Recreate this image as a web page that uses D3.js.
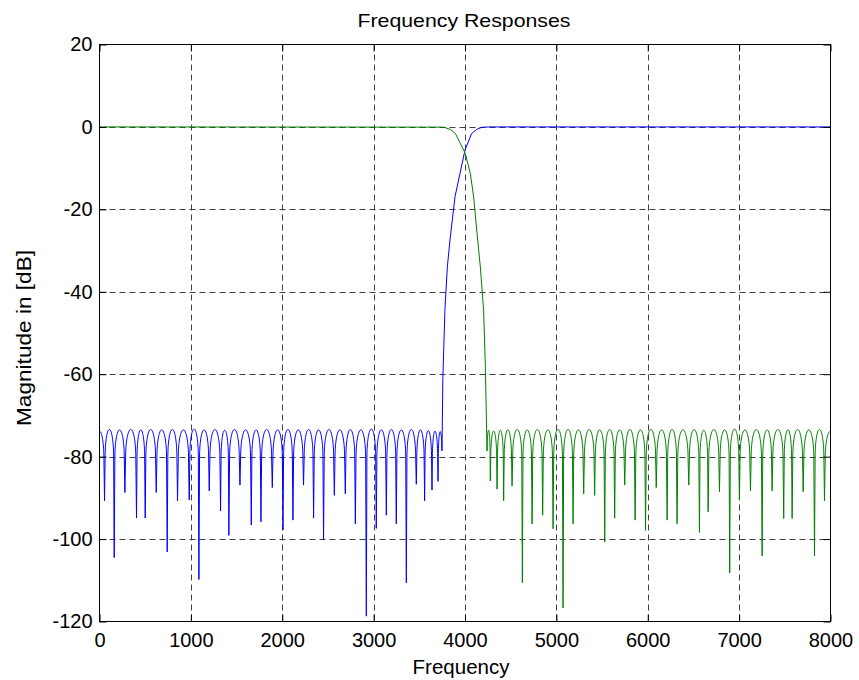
<!DOCTYPE html>
<html>
<head>
<meta charset="utf-8">
<script src="https://cdn.jsdelivr.net/npm/d3@7"></script>
<style>
  body { margin: 0; background: #fff; }
  svg { display: block; }
  text { font-family: "Liberation Sans", Arial, Helvetica, sans-serif; fill: #000; }
</style>
</head>
<body>
<svg id="chart" width="859" height="680"></svg>
<script>
// Axis ticks
const xTicks = [0, 1000, 2000, 3000, 4000, 5000, 6000, 7000, 8000];
const yTicks = [20, 0, -20, -40, -60, -80, -100, -120];

// High-pass response (blue): stopband lobe peaks/nulls, transition, passband
const highpassHz = [
  0, 55, 108, 161, 220, 278, 342, 405, 452, 500, 560, 621, 681, 741, 797, 854, 918, 982,
  1035, 1088, 1145, 1201, 1263, 1325, 1370, 1416, 1477, 1537, 1599, 1661, 1714, 1767, 1829, 1891, 1950,
  2008, 2062, 2117, 2175, 2233, 2288, 2343, 2398, 2452, 2511, 2570, 2630, 2690, 2745, 2800, 2860, 2920,
  2975, 3029, 3084, 3139, 3194, 3248, 3303, 3358, 3412, 3467, 3512, 3558, 3598, 3639, 3672, 3705, 3728,
  3748, 3758, 3781, 3807, 3836, 3891, 3946, 4000, 4073, 4128, 4183, 4260, 8000
];
const highpassDb = [
  -73.8, -90.7, -73.4, -104.5, -73.5, -88.7, -73.4, -94.9, -73.5, -94.9, -73.4, -88.7, -73.5, -103.1, -73.4, -90.7, -73.5, -90.5,
  -73.3, -109.8, -73.5, -88.3, -73.4, -93.2, -73.6, -99.1, -73.4, -86.9, -73.5, -96.6, -73.5, -95.8, -73.4, -87.5, -73.5,
  -97.8, -73.4, -95.4, -73.5, -86.9, -73.4, -94.9, -73.5, -100.2, -73.4, -89.4, -73.5, -89.0, -73.4, -96.3, -73.5, -118.7,
  -73.3, -97.4, -73.5, -94.2, -73.4, -96.3, -73.5, -110.6, -73.4, -86.7, -73.5, -90.7, -73.7, -88.1, -73.8, -86.0, -73.9,
  -78.6, -60.6, -44.0, -33.9, -27.4, -16.9, -11.2, -5.6, -1.6, -0.6, -0.1, 0, 0
];

// Low-pass response (green): passband, transition, stopband lobe peaks/nulls
const lowpassHz = [
  0, 3766, 3839, 3895, 3949, 4004, 4058, 4095, 4132, 4168, 4204, 4223,
  4241, 4259, 4277, 4314, 4351, 4387, 4423, 4469, 4515, 4571, 4628, 4681, 4734, 4792, 4850, 4907, 4964,
  5018, 5073, 5128, 5183, 5241, 5299, 5359, 5419, 5474, 5529, 5583, 5638, 5693, 5748, 5805, 5862, 5920, 5976,
  6035, 6093, 6152, 6212, 6266, 6321, 6385, 6449, 6507, 6566, 6613, 6661, 6723, 6785, 6841, 6897, 6950,
  7003, 7063, 7124, 7188, 7252, 7306, 7361, 7424, 7488, 7534, 7580, 7640, 7701, 7763, 7825, 7880, 7934, 8000
];
const lowpassDb = [
  0, -0.05, -0.6, -1.6, -4.0, -6.5, -11.3, -17.0, -25.9, -34.0, -44.6, -58.3,
  -78.6, -73.6, -85.9, -73.8, -87.9, -73.6, -90.7, -73.5, -87.1, -73.4, -110.6, -73.5, -96.3, -73.4, -94.2, -73.5, -97.5,
  -73.4, -116.7, -73.4, -96.3, -73.5, -89.0, -73.4, -89.4, -73.5, -100.7, -73.4, -94.9, -73.5, -86.9, -73.4, -95.4, -73.5, -97.9,
  -73.4, -87.5, -73.5, -95.4, -73.4, -96.3, -73.5, -86.9, -73.4, -98.4, -73.6, -93.4, -73.4, -88.5, -73.5, -108.2, -73.3,
  -90.5, -73.5, -88.3, -73.4, -104.1, -73.5, -88.3, -73.4, -95.0, -73.5, -95.0, -73.4, -88.5, -73.5, -104.1, -73.4, -90.7, -73.8
];

const seriesColors = { highpass: "#0000ff", lowpass: "#008000" };

const svg = d3.select("#chart");
const W = 859, H = 680;
const plotLeft = 99.5, plotRight = 830.5, plotTop = 44.5, plotBottom = 621.5;

const x = d3.scaleLinear().domain([0, 8000]).range([plotLeft, plotRight]);
const y = d3.scaleLinear().domain([-120, 20]).range([plotBottom, plotTop]);

svg.append("rect").attr("width", W).attr("height", H).attr("fill", "#fff");

// Dashed grid
const grid = svg.append("g")
  .attr("stroke", "#404040")
  .attr("stroke-width", 1)
  .attr("stroke-dasharray", "6,4");
grid.selectAll("line.vx")
  .data(xTicks.filter(d => d > 0 && d < 8000))
  .join("line")
  .attr("class", "vx")
  .attr("x1", d => Math.round(x(d)) + 0.5).attr("x2", d => Math.round(x(d)) + 0.5)
  .attr("y1", plotTop).attr("y2", plotBottom);
grid.selectAll("line.hy")
  .data(yTicks.filter(d => d < 20 && d > -120))
  .join("line")
  .attr("class", "hy")
  .attr("y1", d => Math.round(y(d)) + 0.5).attr("y2", d => Math.round(y(d)) + 0.5)
  .attr("x1", plotLeft).attr("x2", plotRight);

// Curve that rounds the tops of stopband lobes and keeps sharp nulls
function lobeCurve(context) {
  let pts;
  return {
    areaStart() {}, areaEnd() {},
    lineStart() { pts = []; },
    point(px, py) { pts.push([+px, +py]); },
    lineEnd() {
      const n = pts.length;
      if (!n) return;
      const kind = pts.map((p, i) => {
        const a = pts[i - 1], b = pts[i + 1];
        if (!a && !b) return 0;
        const peak = (!a || a[1] > p[1]) && (!b || b[1] > p[1]);
        const dip = (!a || a[1] < p[1]) && (!b || b[1] < p[1]);
        return peak ? 1 : dip ? -1 : 0;
      });
      context.moveTo(pts[0][0], pts[0][1]);
      for (let i = 1; i < n; i++) {
        const p0 = pts[i - 1], p1 = pts[i];
        const k0 = kind[i - 1], k1 = kind[i];
        if (k0 * k1 === -1) {
          const pk = k0 === 1 ? p0 : p1, dp = k0 === 1 ? p1 : p0;
          const h = Math.min(28, 0.8 * (dp[1] - pk[1]));
          const lx = dp[0] + 0.12 * (pk[0] - dp[0]), ly = pk[1] + h;
          if (k0 === 1) {
            context.bezierCurveTo(pk[0] + 0.55 * (lx - pk[0]), pk[1], lx, ly - 0.55 * h, lx, ly);
            context.lineTo(dp[0], dp[1]);
          } else {
            context.lineTo(lx, ly);
            context.bezierCurveTo(lx, ly - 0.55 * h, pk[0] + 0.55 * (lx - pk[0]), pk[1], pk[0], pk[1]);
          }
        } else {
          context.lineTo(p1[0], p1[1]);
        }
      }
    }
  };
}

const line = d3.line()
  .x(d => x(d[0]))
  .y(d => y(d[1]))
  .curve(lobeCurve);

const highpass = highpassHz.map((f, i) => [f, highpassDb[i]]);
const lowpass = lowpassHz.map((f, i) => [f, lowpassDb[i]]);

svg.append("path")
  .datum(highpass)
  .attr("fill", "none")
  .attr("stroke", seriesColors.highpass)
  .attr("stroke-width", 1)
  .attr("d", line);

svg.append("path")
  .datum(lowpass)
  .attr("fill", "none")
  .attr("stroke", seriesColors.lowpass)
  .attr("stroke-width", 1)
  .attr("d", line);

// Axes with inward ticks on all four sides
const tickFont = 20;
const plainNumber = d => String(d);
svg.append("g")
  .attr("transform", `translate(0,${plotBottom})`)
  .call(d3.axisBottom(x).tickValues(xTicks).tickFormat(plainNumber).tickSize(-7).tickSizeOuter(0).tickPadding(11));
svg.append("g")
  .attr("transform", `translate(${plotLeft},0)`)
  .call(d3.axisLeft(y).tickValues(yTicks).tickFormat(plainNumber).tickSize(-7).tickSizeOuter(0).tickPadding(7));
svg.append("g")
  .attr("transform", `translate(0,${plotTop})`)
  .call(d3.axisTop(x).tickValues(xTicks).tickFormat("").tickSize(-7).tickSizeOuter(0));
svg.append("g")
  .attr("transform", `translate(${plotRight},0)`)
  .call(d3.axisRight(y).tickValues(yTicks).tickFormat("").tickSize(-7).tickSizeOuter(0));

svg.selectAll(".domain").remove();
svg.selectAll(".tick line").attr("stroke", "#000");
svg.selectAll(".tick text")
  .attr("font-size", tickFont)
  .attr("font-family", "'Liberation Sans', Arial, sans-serif")
  .attr("fill", "#000");

// Axes box
svg.append("rect")
  .attr("x", plotLeft).attr("y", plotTop)
  .attr("width", plotRight - plotLeft).attr("height", plotBottom - plotTop)
  .attr("fill", "none").attr("stroke", "#000").attr("stroke-width", 1);

// Title and axis labels
svg.append("text")
  .attr("x", 464).attr("y", 27)
  .attr("text-anchor", "middle").attr("font-size", 18.5)
  .attr("textLength", 213).attr("lengthAdjust", "spacingAndGlyphs")
  .text("Frequency Responses");
svg.append("text")
  .attr("x", 461).attr("y", 674)
  .attr("text-anchor", "middle").attr("font-size", 20)
  .attr("textLength", 97).attr("lengthAdjust", "spacingAndGlyphs")
  .text("Frequency");
svg.append("text")
  .attr("transform", `translate(31,${338}) rotate(-90)`)
  .attr("text-anchor", "middle").attr("font-size", 21)
  .attr("textLength", 176).attr("lengthAdjust", "spacingAndGlyphs")
  .text("Magnitude in [dB]");
</script>
</body>
</html>
